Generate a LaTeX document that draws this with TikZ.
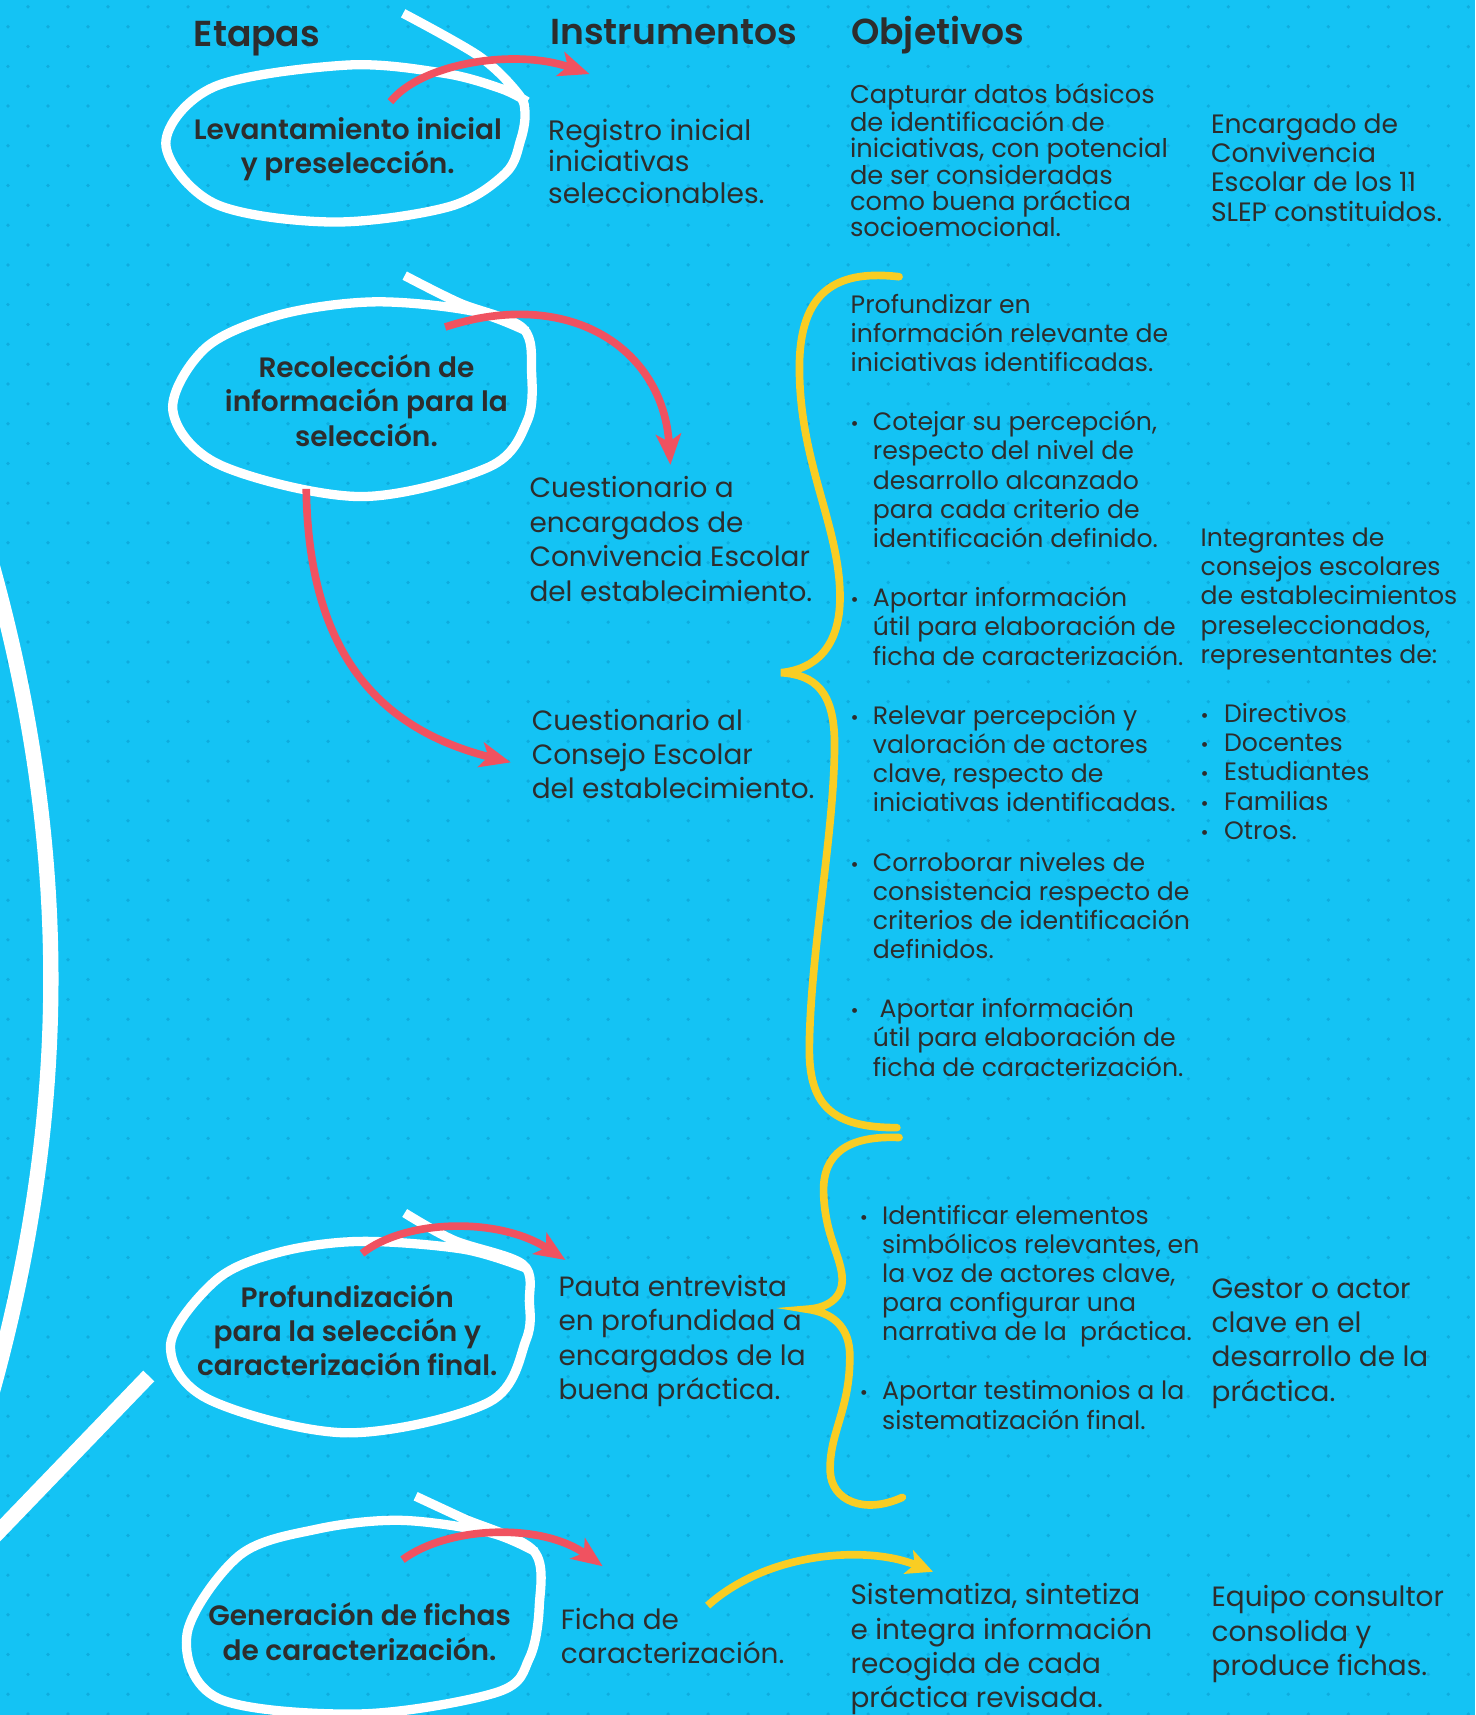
\documentclass[tikz,border=0pt]{standalone}
\usepackage{fontspec}
\IfFontExistsTF{Poppins SemiBold}{\setmainfont{Poppins}[BoldFont={Poppins SemiBold}]}{\setmainfont{Poppins}}
\usetikzlibrary{arrows.meta}
\definecolor{bg}{RGB}{20,195,244}
\definecolor{dotc}{RGB}{14,172,222}
\definecolor{ink}{RGB}{45,45,45}
\definecolor{redc}{RGB}{240,82,96}
\definecolor{yel}{RGB}{249,205,35}
\begin{document}
\begin{tikzpicture}[x=1pt,y=-1pt,
  hdr/.style={font=\bfseries\fontsize{33}{38}\selectfont, text=ink, anchor=base west, inner sep=0pt},
  lbl/.style={font=\bfseries\fontsize{25.6}{31.5}\selectfont, text=ink, align=center, anchor=base, inner sep=0pt},
  txt/.style={text=ink, align=left, anchor=base west, inner sep=0pt},
  big/.style={txt, font=\fontsize{25.5}{31.5}\selectfont},
  mid/.style={txt, font=\fontsize{25.7}{29.2}\selectfont},
  sml/.style={txt, font=\fontsize{23}{26.7}\selectfont},
  cone/.style={txt, font=\fontsize{24.3}{26.7}\selectfont},
  tight/.style={txt, font=\fontsize{23.5}{24.1}\selectfont},
  bul/.style={text=ink, anchor=base, inner sep=0pt, font=\fontsize{18}{24}\selectfont},
  lasso/.style={draw=white, line width=8.5pt},
  redarrow/.style={draw=redc, line width=7pt, -{Stealth[length=28pt,width=23pt,inset=7pt]}},
  yelarrow/.style={draw=yel, line width=7pt, -{Stealth[length=24pt,width=23pt,inset=6pt]}},
  brace/.style={draw=yel, line width=7pt, line cap=round},
  bigline/.style={draw=white, line width=14pt}
]
\fill[bg] (0,0) rectangle (1349,1568);
\useasboundingbox (0,0) rectangle (1349,1568);
% dot pattern
\foreach \j in {0,...,86}{
  \pgfmathsetmacro\yy{6.25+18.15*\j}
  \pgfmathsetmacro\xo{ifthenelse(mod(\j,2)==0,25.6,7.3)}
  \foreach \i in {0,...,37}{
    \fill[dotc] ({\xo+36.58*\i},\yy) circle[radius=1.7pt];
  }
}
% big white arc and line on the left
\draw[bigline] (-12,500) .. controls (66,770) and (66,1020) .. (-12,1290);
\coordinate (ls) at (136,1258);
\coordinate (le) at (-20,1420);
\draw[bigline] (ls) -- (le);

% white lassos
\draw[lasso] plot[smooth, tension=0.55] coordinates {(368.6,12.2) (438.6,51.8) (474,86) (480,104) (476,128) (462,158.5) (410.6,189) (303.3,203) (196,186) (151.6,131) (196,79.3) (317.3,59.5) (406,67) (458,81) (482,93)};
\draw[lasso] plot[smooth, tension=0.55] coordinates {(370,252) (420,277) (478,300) (486,340) (482,385) (447,427) (329,454) (201,425) (158,375) (188,318) (255,288) (341,276) (430,284) (482,303)};
\draw[lasso] plot[smooth, tension=0.55] coordinates {(370,1109) (415,1134) (478,1156) (484,1190) (481,1225) (447,1282) (317,1310) (190,1279) (156,1229) (198,1170) (255,1145) (329,1135) (423,1142) (480,1159)};
\draw[lasso] plot[smooth, tension=0.55] coordinates {(380,1368) (423,1388) (488,1418) (493,1469) (484,1516) (455,1547) (330,1567) (200,1553) (171,1494) (219,1422) (290,1398) (366,1390) (447,1401) (490,1419)};

% headers
\node[hdr] (hEt) at (177,42.5) {Etapas};
\node[hdr] (hIn) at (503,41) {Instrumentos};
\node[hdr] (hOb) at (778,41) {Objetivos};

% stage labels (coordinates = baseline of last line)
\node[lbl] (e1) at (318,158.9) {Levantamiento inicial\\y preselección.};
\node[lbl] (e2) at (335,408) {Recolección de\\información para la\\selección.};
\node[lbl] (e3) at (317.5,1258) {Profundización\\para la selección y\\caracterización final.};
\node[lbl] (e4) at (328.7,1517.9) {Generación de fichas\\de caracterización.};

% instruments
\node[mid] (i1) at (501,186.4) {Registro inicial\\iniciativas\\seleccionables.};
\node[big] (i2) at (484,549.5) {Cuestionario a\\encargados de\\Convivencia Escolar\\del establecimiento.};
\node[big] (i3) at (486,730.5) {Cuestionario al\\Consejo Escolar\\del establecimiento.};
\node[big] (i4) at (510.5,1279.8) {Pauta entrevista\\en profundidad a\\encargados de la\\buena práctica.};
\node[big] (i5) at (512.6,1521) {Ficha de\\caracterización.};

% objectives
\node[tight] (o1) at (777,216.5) {Capturar datos básicos\\de identificación de\\iniciativas, con potencial\\de ser consideradas\\como buena práctica\\socioemocional.};
\node[sml] (o2) at (777.6,339.8) {Profundizar en\\información relevante de\\iniciativas identificadas.};
\node[bul] (b1b) at (781.3,393.7) {•};
\node[sml] (b1) at (797.9,500.5) {Cotejar su percepción,\\respecto del nivel de\\desarrollo alcanzado\\para cada criterio de\\identificación definido.};
\node[bul] (b2b) at (781.3,554.7) {•};
\node[sml] (b2) at (797.9,608.1) {Aportar información\\útil para elaboración de\\ficha de caracterización.};
\node[bul] (b3b) at (781.3,662) {•};
\node[sml] (b3) at (797.9,742.1) {Relevar percepción y\\valoración de actores\\clave, respecto de\\iniciativas identificadas.};
\node[bul] (b4b) at (781.3,796.4) {•};
\node[sml] (b4) at (797.9,876.5) {Corroborar niveles de\\consistencia respecto de\\criterios de identificación\\definidos.};
\node[bul] (b5b) at (781.3,930.4) {•};
\node[sml] (b5) at (797.9,983.8) {\ Aportar información\\útil para elaboración de\\ficha de caracterización.};
\node[bul] (b6b) at (789.8,1119.2) {•};
\node[sml] (b6) at (806.4,1226) {Identificar elementos\\simbólicos relevantes, en\\la voz de actores clave,\\para configurar una\\narrativa de la\ \ práctica.};
\node[bul] (b7b) at (789.8,1279.8) {•};
\node[sml] (b7) at (806.4,1306.5) {Aportar testimonios a la\\sistematización final.};
\node[big] (o4) at (777.5,1561.5) {Sistematiza, sintetiza\\e integra información\\recogida de cada\\práctica revisada.};

% participants
\node[cone] (c1) at (1107,202.1) {Encargado de\\Convivencia\\Escolar de los 11\\SLEP constituidos.};
\node[sml] (c2) at (1097.6,606.5) {Integrantes de\\consejos escolares\\de establecimientos\\preseleccionados,\\representantes de:};
\node[bul] (d1b) at (1101.3,660.6) {•};
\node[sml] (d1) at (1119,660.6) {Directivos};
\node[bul] (d2b) at (1101.3,687.3) {•};
\node[sml] (d2) at (1119,687.3) {Docentes};
\node[bul] (d3b) at (1101.3,714) {•};
\node[sml] (d3) at (1119,714) {Estudiantes};
\node[bul] (d4b) at (1101.3,740.7) {•};
\node[sml] (d4) at (1119,740.7) {Familias};
\node[bul] (d5b) at (1101.3,767.4) {•};
\node[sml] (d5) at (1119,767.4) {Otros.};
\node[big] (c3) at (1107.6,1281.3) {Gestor o actor\\clave en el\\desarrollo de la\\práctica.};
\node[big] (c4) at (1107.6,1532.2) {Equipo consultor\\consolida y\\produce fichas.};

% red arrows
\coordinate (a1s) at (357,93);   \coordinate (a1e) at (539,67.7);
\coordinate (a2s) at (407,299);  \coordinate (a2e) at (613,425);
\coordinate (a3s) at (280,447);  \coordinate (a3e) at (467,697);
\coordinate (a4s) at (331,1146); \coordinate (a4e) at (517,1152);
\coordinate (a5s) at (368,1426); \coordinate (a5e) at (551,1432);
\draw[redarrow] (a1s) .. controls (385,58) and (470,44) .. (a1e);
\draw[redarrow] (a2s) .. controls (520,262) and (606,318) .. (a2e);
\draw[redarrow] (a3s) .. controls (282,590) and (340,665) .. (a3e);
\draw[redarrow] (a4s) .. controls (370,1115) and (455,1112) .. (a4e);
\draw[redarrow] (a5s) .. controls (410,1395) and (495,1392) .. (a5e);

% yellow braces
\draw[brace] (822,253) .. controls (770,247) and (733,262) .. (731,330)
  .. controls (729,420) and (768,480) .. (768,546)
  .. controls (768,592) and (745,612) .. (714,615)
  .. controls (745,617) and (763,632) .. (763,680)
  .. controls (763,760) and (741,870) .. (740,956)
  .. controls (739,1010) and (760,1031) .. (820,1031);
\draw[brace] (822,1040) .. controls (775,1038) and (752,1055) .. (753,1090)
  .. controls (754,1130) and (770,1150) .. (770,1170)
  .. controls (770,1188) and (755,1196) .. (738,1197)
  .. controls (760,1200) and (777,1212) .. (777,1240)
  .. controls (777,1290) and (758,1310) .. (759,1345)
  .. controls (760,1372) and (790,1385) .. (825,1369);
% yellow arrow
\coordinate (ys) at (647,1468); \coordinate (ye) at (853,1437);
\draw[yelarrow] (ys) .. controls (700,1420) and (790,1412) .. (ye);
\end{tikzpicture}
\end{document}
